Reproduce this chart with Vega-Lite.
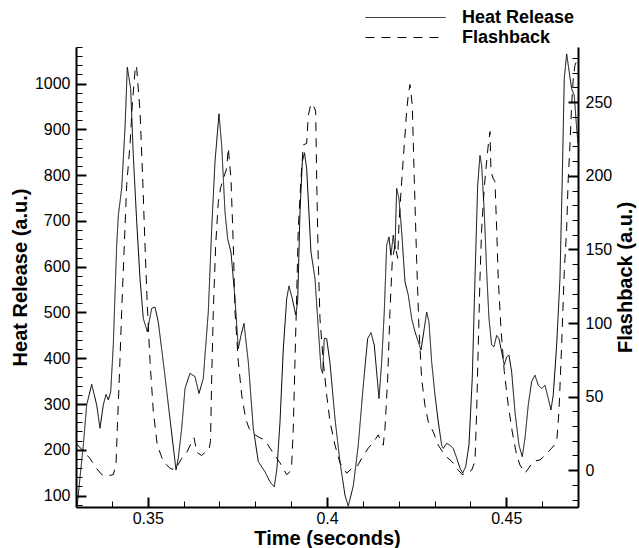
{
  "$schema": "https://vega.github.io/schema/vega-lite/v6.json",
  "width": 502,
  "height": 460,
  "autosize": {"type": "none"},
  "padding": {"left": 76, "top": 47, "right": 61, "bottom": 41},
  "background": "white",
  "config": {
    "view": {"stroke": null},
    "font": "Liberation Sans",
    "axis": {
      "grid": false,
      "domainColor": "black",
      "domainWidth": 2,
      "tickColor": "black",
      "labelColor": "black",
      "labelFont": "Liberation Sans",
      "labelFontSize": 16,
      "labelOverlap": false,
      "labelFlush": false,
      "titleFont": "Liberation Sans",
      "titleFontSize": 20,
      "titleFontWeight": "bold",
      "titleColor": "black"
    }
  },
  "datasets": {
    "d": [
      {"series":"Heat Release","t":0.33036,"v":79},
      {"series":"Heat Release","t":0.33112,"v":140},
      {"series":"Heat Release","t":0.33204,"v":210},
      {"series":"Heat Release","t":0.33298,"v":298},
      {"series":"Heat Release","t":0.33438,"v":343},
      {"series":"Heat Release","t":0.33577,"v":298},
      {"series":"Heat Release","t":0.33669,"v":247},
      {"series":"Heat Release","t":0.33761,"v":298},
      {"series":"Heat Release","t":0.33837,"v":321},
      {"series":"Heat Release","t":0.33901,"v":309},
      {"series":"Heat Release","t":0.33968,"v":327},
      {"series":"Heat Release","t":0.34040,"v":429},
      {"series":"Heat Release","t":0.34135,"v":647},
      {"series":"Heat Release","t":0.34180,"v":712},
      {"series":"Heat Release","t":0.34274,"v":771},
      {"series":"Heat Release","t":0.34366,"v":902},
      {"series":"Heat Release","t":0.34431,"v":1036},
      {"series":"Heat Release","t":0.34525,"v":989},
      {"series":"Heat Release","t":0.34598,"v":843},
      {"series":"Heat Release","t":0.34693,"v":698},
      {"series":"Heat Release","t":0.34785,"v":574},
      {"series":"Heat Release","t":0.34877,"v":487},
      {"series":"Heat Release","t":0.34988,"v":458},
      {"series":"Heat Release","t":0.35111,"v":509},
      {"series":"Heat Release","t":0.35203,"v":512},
      {"series":"Heat Release","t":0.35295,"v":479},
      {"series":"Heat Release","t":0.35434,"v":392},
      {"series":"Heat Release","t":0.35621,"v":268},
      {"series":"Heat Release","t":0.35789,"v":156},
      {"series":"Heat Release","t":0.35853,"v":182},
      {"series":"Heat Release","t":0.35948,"v":247},
      {"series":"Heat Release","t":0.36040,"v":334},
      {"series":"Heat Release","t":0.36179,"v":367},
      {"series":"Heat Release","t":0.36318,"v":360},
      {"series":"Heat Release","t":0.36430,"v":323},
      {"series":"Heat Release","t":0.36550,"v":356},
      {"series":"Heat Release","t":0.36689,"v":501},
      {"series":"Heat Release","t":0.36784,"v":683},
      {"series":"Heat Release","t":0.36876,"v":829},
      {"series":"Heat Release","t":0.36988,"v":934},
      {"series":"Heat Release","t":0.37063,"v":865},
      {"series":"Heat Release","t":0.37155,"v":720},
      {"series":"Heat Release","t":0.37230,"v":661},
      {"series":"Heat Release","t":0.37322,"v":632},
      {"series":"Heat Release","t":0.37434,"v":530},
      {"series":"Heat Release","t":0.37526,"v":421},
      {"series":"Heat Release","t":0.37601,"v":450},
      {"series":"Heat Release","t":0.37685,"v":476},
      {"series":"Heat Release","t":0.37805,"v":392},
      {"series":"Heat Release","t":0.37944,"v":247},
      {"series":"Heat Release","t":0.38084,"v":174},
      {"series":"Heat Release","t":0.38270,"v":152},
      {"series":"Heat Release","t":0.38410,"v":130},
      {"series":"Heat Release","t":0.38530,"v":119},
      {"series":"Heat Release","t":0.38605,"v":160},
      {"series":"Heat Release","t":0.38689,"v":260},
      {"series":"Heat Release","t":0.38781,"v":420},
      {"series":"Heat Release","t":0.38876,"v":530},
      {"series":"Heat Release","t":0.38940,"v":558},
      {"series":"Heat Release","t":0.39032,"v":530},
      {"series":"Heat Release","t":0.39127,"v":495},
      {"series":"Heat Release","t":0.39182,"v":523},
      {"series":"Heat Release","t":0.39247,"v":720},
      {"series":"Heat Release","t":0.39311,"v":829},
      {"series":"Heat Release","t":0.39372,"v":849},
      {"series":"Heat Release","t":0.39433,"v":814},
      {"series":"Heat Release","t":0.39553,"v":632},
      {"series":"Heat Release","t":0.39665,"v":574},
      {"series":"Heat Release","t":0.39757,"v":465},
      {"series":"Heat Release","t":0.39832,"v":378},
      {"series":"Heat Release","t":0.39880,"v":367},
      {"series":"Heat Release","t":0.39924,"v":443},
      {"series":"Heat Release","t":0.39991,"v":443},
      {"series":"Heat Release","t":0.40083,"v":390},
      {"series":"Heat Release","t":0.40223,"v":268},
      {"series":"Heat Release","t":0.40362,"v":174},
      {"series":"Heat Release","t":0.40501,"v":101},
      {"series":"Heat Release","t":0.40593,"v":77},
      {"series":"Heat Release","t":0.40733,"v":121},
      {"series":"Heat Release","t":0.40872,"v":210},
      {"series":"Heat Release","t":0.41012,"v":341},
      {"series":"Heat Release","t":0.41134,"v":443},
      {"series":"Heat Release","t":0.41226,"v":456},
      {"series":"Heat Release","t":0.41318,"v":429},
      {"series":"Heat Release","t":0.41450,"v":312},
      {"series":"Heat Release","t":0.41525,"v":392},
      {"series":"Heat Release","t":0.41597,"v":501},
      {"series":"Heat Release","t":0.41664,"v":647},
      {"series":"Heat Release","t":0.41728,"v":665},
      {"series":"Heat Release","t":0.41784,"v":625},
      {"series":"Heat Release","t":0.41848,"v":669},
      {"series":"Heat Release","t":0.41896,"v":639},
      {"series":"Heat Release","t":0.41943,"v":771},
      {"series":"Heat Release","t":0.42007,"v":749},
      {"series":"Heat Release","t":0.42083,"v":676},
      {"series":"Heat Release","t":0.42175,"v":567},
      {"series":"Heat Release","t":0.42267,"v":538},
      {"series":"Heat Release","t":0.42361,"v":487},
      {"series":"Heat Release","t":0.42453,"v":458},
      {"series":"Heat Release","t":0.42546,"v":436},
      {"series":"Heat Release","t":0.42621,"v":418},
      {"series":"Heat Release","t":0.42713,"v":465},
      {"series":"Heat Release","t":0.42780,"v":501},
      {"series":"Heat Release","t":0.42844,"v":479},
      {"series":"Heat Release","t":0.42919,"v":392},
      {"series":"Heat Release","t":0.43011,"v":320},
      {"series":"Heat Release","t":0.43103,"v":261},
      {"series":"Heat Release","t":0.43198,"v":210},
      {"series":"Heat Release","t":0.43243,"v":203},
      {"series":"Heat Release","t":0.43337,"v":214},
      {"series":"Heat Release","t":0.43429,"v":210},
      {"series":"Heat Release","t":0.43521,"v":203},
      {"series":"Heat Release","t":0.43616,"v":182},
      {"series":"Heat Release","t":0.43708,"v":160},
      {"series":"Heat Release","t":0.43784,"v":149},
      {"series":"Heat Release","t":0.43867,"v":163},
      {"series":"Heat Release","t":0.43959,"v":210},
      {"series":"Heat Release","t":0.44051,"v":356},
      {"series":"Heat Release","t":0.44127,"v":574},
      {"series":"Heat Release","t":0.44202,"v":778},
      {"series":"Heat Release","t":0.44266,"v":843},
      {"series":"Heat Release","t":0.44313,"v":821},
      {"series":"Heat Release","t":0.44386,"v":720},
      {"series":"Heat Release","t":0.44453,"v":589},
      {"series":"Heat Release","t":0.44517,"v":487},
      {"series":"Heat Release","t":0.44592,"v":429},
      {"series":"Heat Release","t":0.44656,"v":425},
      {"series":"Heat Release","t":0.44732,"v":450},
      {"series":"Heat Release","t":0.44796,"v":443},
      {"series":"Heat Release","t":0.44871,"v":414},
      {"series":"Heat Release","t":0.44944,"v":385},
      {"series":"Heat Release","t":0.45011,"v":403},
      {"series":"Heat Release","t":0.45075,"v":407},
      {"series":"Heat Release","t":0.45150,"v":370},
      {"series":"Heat Release","t":0.45242,"v":283},
      {"series":"Heat Release","t":0.45354,"v":210},
      {"series":"Heat Release","t":0.45446,"v":185},
      {"series":"Heat Release","t":0.45521,"v":225},
      {"series":"Heat Release","t":0.45613,"v":298},
      {"series":"Heat Release","t":0.45708,"v":349},
      {"series":"Heat Release","t":0.45800,"v":363},
      {"series":"Heat Release","t":0.45892,"v":341},
      {"series":"Heat Release","t":0.45987,"v":334},
      {"series":"Heat Release","t":0.46079,"v":341},
      {"series":"Heat Release","t":0.46171,"v":312},
      {"series":"Heat Release","t":0.46246,"v":287},
      {"series":"Heat Release","t":0.46310,"v":320},
      {"series":"Heat Release","t":0.46405,"v":429},
      {"series":"Heat Release","t":0.46497,"v":574},
      {"series":"Heat Release","t":0.46561,"v":792},
      {"series":"Heat Release","t":0.46617,"v":1011},
      {"series":"Heat Release","t":0.46684,"v":1065},
      {"series":"Heat Release","t":0.46748,"v":1029},
      {"series":"Heat Release","t":0.46823,"v":989},
      {"series":"Heat Release","t":0.46896,"v":974},
      {"series":"Heat Release","t":0.46963,"v":902},
      {"series":"Heat Release","t":0.46999,"v":870},
      {"series":"Flashback","t":0.33014,"v":18},
      {"series":"Flashback","t":0.33390,"v":8},
      {"series":"Flashback","t":0.33577,"v":1},
      {"series":"Flashback","t":0.33717,"v":-3},
      {"series":"Flashback","t":0.33856,"v":-4},
      {"series":"Flashback","t":0.34040,"v":-3},
      {"series":"Flashback","t":0.34115,"v":3.5},
      {"series":"Flashback","t":0.34152,"v":28.5},
      {"series":"Flashback","t":0.34207,"v":62},
      {"series":"Flashback","t":0.34274,"v":108},
      {"series":"Flashback","t":0.34339,"v":148},
      {"series":"Flashback","t":0.34414,"v":194},
      {"series":"Flashback","t":0.34506,"v":221},
      {"series":"Flashback","t":0.34570,"v":248},
      {"series":"Flashback","t":0.34645,"v":271},
      {"series":"Flashback","t":0.34687,"v":275},
      {"series":"Flashback","t":0.34721,"v":264},
      {"series":"Flashback","t":0.34785,"v":244},
      {"series":"Flashback","t":0.34860,"v":198},
      {"series":"Flashback","t":0.34924,"v":153},
      {"series":"Flashback","t":0.34988,"v":112},
      {"series":"Flashback","t":0.35064,"v":74},
      {"series":"Flashback","t":0.35156,"v":40},
      {"series":"Flashback","t":0.35267,"v":17},
      {"series":"Flashback","t":0.35434,"v":6},
      {"series":"Flashback","t":0.35621,"v":1.3},
      {"series":"Flashback","t":0.35761,"v":0.2},
      {"series":"Flashback","t":0.35948,"v":8},
      {"series":"Flashback","t":0.36087,"v":12},
      {"series":"Flashback","t":0.36226,"v":19},
      {"series":"Flashback","t":0.36291,"v":22},
      {"series":"Flashback","t":0.36374,"v":12},
      {"series":"Flashback","t":0.36505,"v":10},
      {"series":"Flashback","t":0.36597,"v":12},
      {"series":"Flashback","t":0.36709,"v":14},
      {"series":"Flashback","t":0.36751,"v":20},
      {"series":"Flashback","t":0.36784,"v":62},
      {"series":"Flashback","t":0.36829,"v":108},
      {"series":"Flashback","t":0.36896,"v":153},
      {"series":"Flashback","t":0.36968,"v":182},
      {"series":"Flashback","t":0.37035,"v":192},
      {"series":"Flashback","t":0.37108,"v":198},
      {"series":"Flashback","t":0.37202,"v":205},
      {"series":"Flashback","t":0.37247,"v":219},
      {"series":"Flashback","t":0.37322,"v":198},
      {"series":"Flashback","t":0.37387,"v":153},
      {"series":"Flashback","t":0.37434,"v":108},
      {"series":"Flashback","t":0.37526,"v":74},
      {"series":"Flashback","t":0.37621,"v":51},
      {"series":"Flashback","t":0.37732,"v":35},
      {"series":"Flashback","t":0.37824,"v":28.5},
      {"series":"Flashback","t":0.37992,"v":24},
      {"series":"Flashback","t":0.38131,"v":22},
      {"series":"Flashback","t":0.38270,"v":20.5},
      {"series":"Flashback","t":0.38410,"v":15},
      {"series":"Flashback","t":0.38549,"v":10},
      {"series":"Flashback","t":0.38689,"v":5},
      {"series":"Flashback","t":0.38876,"v":-3},
      {"series":"Flashback","t":0.38968,"v":-1},
      {"series":"Flashback","t":0.39015,"v":3.5},
      {"series":"Flashback","t":0.39060,"v":28.5},
      {"series":"Flashback","t":0.39107,"v":74},
      {"series":"Flashback","t":0.39155,"v":119},
      {"series":"Flashback","t":0.39199,"v":164},
      {"series":"Flashback","t":0.39274,"v":198},
      {"series":"Flashback","t":0.39339,"v":221},
      {"series":"Flashback","t":0.39433,"v":222},
      {"series":"Flashback","t":0.39478,"v":241},
      {"series":"Flashback","t":0.39553,"v":249},
      {"series":"Flashback","t":0.39617,"v":248},
      {"series":"Flashback","t":0.39684,"v":244},
      {"series":"Flashback","t":0.39712,"v":198},
      {"series":"Flashback","t":0.39757,"v":142},
      {"series":"Flashback","t":0.39804,"v":103},
      {"series":"Flashback","t":0.39896,"v":74},
      {"series":"Flashback","t":0.39991,"v":51},
      {"series":"Flashback","t":0.40083,"v":33},
      {"series":"Flashback","t":0.40223,"v":17},
      {"series":"Flashback","t":0.40362,"v":5},
      {"series":"Flashback","t":0.40549,"v":-2},
      {"series":"Flashback","t":0.40688,"v":1},
      {"series":"Flashback","t":0.40828,"v":2},
      {"series":"Flashback","t":0.40967,"v":8},
      {"series":"Flashback","t":0.41151,"v":15},
      {"series":"Flashback","t":0.41291,"v":19},
      {"series":"Flashback","t":0.41430,"v":24},
      {"series":"Flashback","t":0.41525,"v":18},
      {"series":"Flashback","t":0.41569,"v":17},
      {"series":"Flashback","t":0.41617,"v":28.5},
      {"series":"Flashback","t":0.41692,"v":62},
      {"series":"Flashback","t":0.41756,"v":108},
      {"series":"Flashback","t":0.41820,"v":142},
      {"series":"Flashback","t":0.41896,"v":153},
      {"series":"Flashback","t":0.41971,"v":144},
      {"series":"Flashback","t":0.42007,"v":167},
      {"series":"Flashback","t":0.42063,"v":189},
      {"series":"Flashback","t":0.42155,"v":221},
      {"series":"Flashback","t":0.42222,"v":244},
      {"series":"Flashback","t":0.42267,"v":255},
      {"series":"Flashback","t":0.42314,"v":262},
      {"series":"Flashback","t":0.42378,"v":248},
      {"series":"Flashback","t":0.42434,"v":198},
      {"series":"Flashback","t":0.42501,"v":142},
      {"series":"Flashback","t":0.42565,"v":96},
      {"series":"Flashback","t":0.42640,"v":62},
      {"series":"Flashback","t":0.42732,"v":44},
      {"series":"Flashback","t":0.42824,"v":33},
      {"series":"Flashback","t":0.42964,"v":26},
      {"series":"Flashback","t":0.43103,"v":17},
      {"series":"Flashback","t":0.43290,"v":10},
      {"series":"Flashback","t":0.43477,"v":6},
      {"series":"Flashback","t":0.43661,"v":0},
      {"series":"Flashback","t":0.43772,"v":-3},
      {"series":"Flashback","t":0.43895,"v":-2},
      {"series":"Flashback","t":0.44035,"v":0},
      {"series":"Flashback","t":0.44127,"v":6},
      {"series":"Flashback","t":0.44174,"v":40},
      {"series":"Flashback","t":0.44219,"v":85},
      {"series":"Flashback","t":0.44266,"v":130},
      {"series":"Flashback","t":0.44313,"v":164},
      {"series":"Flashback","t":0.44386,"v":192},
      {"series":"Flashback","t":0.44453,"v":210},
      {"series":"Flashback","t":0.44498,"v":221},
      {"series":"Flashback","t":0.44545,"v":230},
      {"series":"Flashback","t":0.44573,"v":203},
      {"series":"Flashback","t":0.44637,"v":198},
      {"series":"Flashback","t":0.44684,"v":196},
      {"series":"Flashback","t":0.44732,"v":164},
      {"series":"Flashback","t":0.44776,"v":130},
      {"series":"Flashback","t":0.44852,"v":96},
      {"series":"Flashback","t":0.44944,"v":67},
      {"series":"Flashback","t":0.45055,"v":44},
      {"series":"Flashback","t":0.45167,"v":26},
      {"series":"Flashback","t":0.45290,"v":10},
      {"series":"Flashback","t":0.45382,"v":3.5},
      {"series":"Flashback","t":0.45521,"v":-2},
      {"series":"Flashback","t":0.45613,"v":1},
      {"series":"Flashback","t":0.45752,"v":6},
      {"series":"Flashback","t":0.45939,"v":7},
      {"series":"Flashback","t":0.46079,"v":10},
      {"series":"Flashback","t":0.46266,"v":15},
      {"series":"Flashback","t":0.46405,"v":19},
      {"series":"Flashback","t":0.46469,"v":40},
      {"series":"Flashback","t":0.46544,"v":85},
      {"series":"Flashback","t":0.46617,"v":135},
      {"series":"Flashback","t":0.46684,"v":164},
      {"series":"Flashback","t":0.46728,"v":198},
      {"series":"Flashback","t":0.46776,"v":221},
      {"series":"Flashback","t":0.46823,"v":248},
      {"series":"Flashback","t":0.46868,"v":266},
      {"series":"Flashback","t":0.46915,"v":275},
      {"series":"Flashback","t":0.46963,"v":278}
    ]
  },
  "data": {"name": "d"},
  "encoding": {
    "x": {
      "field": "t", "type": "quantitative",
      "scale": {"domain": [0.33, 0.47], "nice": false, "zero": false},
      "axis": {
        "title": "Time (seconds)",
        "values": [0.33,0.34,0.35,0.36,0.37,0.38,0.39,0.4,0.41,0.42,0.43,0.44,0.45,0.46,0.47],
        "labelExpr": "round(datum.value*100) % 5 == 0 ? '' + round(datum.value*100)/100 : ''",
        "tickSize": {"condition": {"test": "round(datum.value*100) % 5 == 0", "value": -10}, "value": -6},
        "tickWidth": {"condition": {"test": "round(datum.value*100) % 5 == 0", "value": 2}, "value": 1},
        "labelPadding": 13,
        "titlePadding": -2,
        "labelFlush": false,
        "labelOverlap": false
      }
    },
    "strokeDash": {
      "field": "series", "type": "nominal",
      "scale": {"domain": ["Heat Release", "Flashback"], "range": [[1, 0], [9, 7]]},
      "legend": {
        "title": null,
        "orient": "none",
        "legendX": 319,
        "legendY": -40,
        "symbolType": "M-4,0H4",
        "symbolSize": 400,
        "symbolStrokeColor": "black",
        "symbolStrokeWidth": 1,
        "symbolFillColor": "transparent",
        "labelFont": "Liberation Sans",
        "labelFontSize": 18,
        "labelFontWeight": "bold",
        "labelColor": "black",
        "labelOffset": 46,
        "padding": 0,
        "rowPadding": 0
      }
    }
  },
  "layer": [
    {
      "transform": [{"filter": "datum.series == 'Heat Release'"}],
      "mark": {"type": "line", "color": "black", "strokeWidth": 1, "clip": true},
      "encoding": {
        "y": {
          "field": "v", "type": "quantitative",
          "scale": {"domain": [75, 1080], "nice": false, "zero": false},
          "axis": {
            "orient": "left",
            "title": "Heat Release (a.u.)",
            "values": [80,100,120,140,160,180,200,220,240,260,280,300,320,340,360,380,400,420,440,460,480,500,520,540,560,580,600,620,640,660,680,700,720,740,760,780,800,820,840,860,880,900,920,940,960,980,1000,1020,1040,1060,1080],
            "labelExpr": "(datum.value % 100 == 0) ? '' + datum.value : ''",
            "tickSize": {"condition": {"test": "datum.value % 100 == 0", "value": -10}, "value": -6},
            "tickWidth": {"condition": {"test": "datum.value % 100 == 0", "value": 2}, "value": 1},
            "labelPadding": 16,
            "titlePadding": 4,
            "labelFlush": false,
            "labelOverlap": false
          }
        }
      }
    },
    {
      "transform": [{"filter": "datum.series == 'Flashback'"}],
      "mark": {"type": "line", "color": "black", "strokeWidth": 1, "clip": true},
      "encoding": {
        "y": {
          "field": "v", "type": "quantitative",
          "scale": {"domain": [-25, 287.5], "nice": false, "zero": false},
          "axis": {
            "orient": "right",
            "title": "Flashback (a.u.)",
            "titleAngle": 270,
            "values": [-20,-10,0,10,20,30,40,50,60,70,80,90,100,110,120,130,140,150,160,170,180,190,200,210,220,230,240,250,260,270,280],
            "labelExpr": "(datum.value % 50 == 0) ? '' + datum.value : ''",
            "tickSize": {"condition": {"test": "datum.value % 50 == 0", "value": -10}, "value": -6},
            "tickWidth": {"condition": {"test": "datum.value % 50 == 0", "value": 2}, "value": 1},
            "labelPadding": 17,
            "titlePadding": 24,
            "labelFlush": false,
            "labelOverlap": false
          }
        }
      }
    }
  ],
  "resolve": {"scale": {"y": "independent"}, "axis": {"y": "independent"}}
}
